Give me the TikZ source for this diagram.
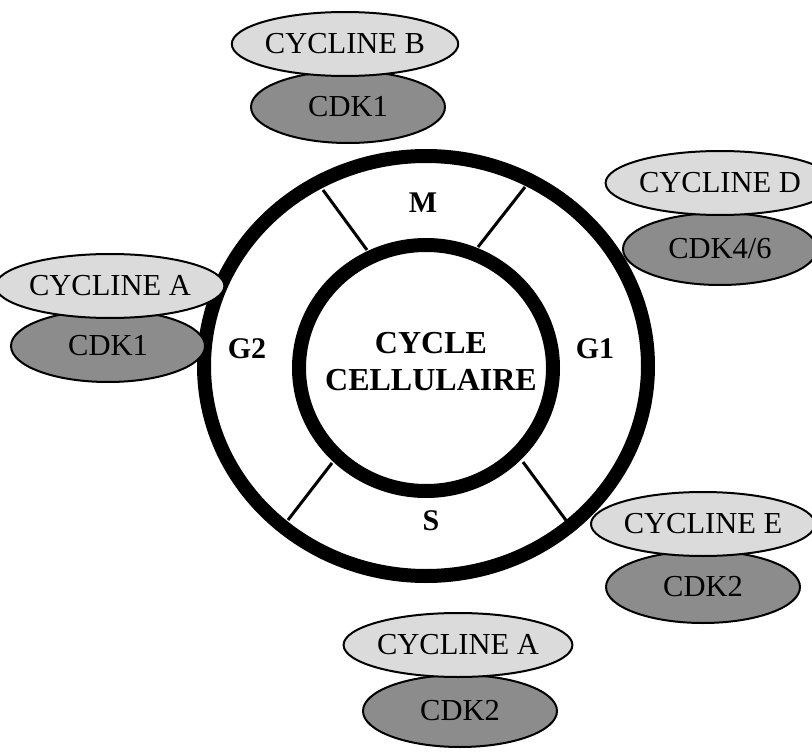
\documentclass[tikz,border=0pt]{standalone}
\usepackage{fontspec}
\setmainfont{Liberation Serif}
\usepackage{tikz}
\usetikzlibrary{shapes.geometric,calc,positioning}
\definecolor{cyclinfill}{gray}{0.86}
\definecolor{cdkfill}{gray}{0.55}
\tikzstyle{cyclin}=[draw, ellipse, fill=cyclinfill, line width=2pt,
                    minimum width=188pt, minimum height=64pt, inner sep=0pt,
                    font=\fontsize{30.5}{32}\selectfont]
\tikzstyle{cdk}   =[draw, ellipse, fill=cdkfill, line width=2pt,
                    minimum width=194pt, minimum height=72pt, inner sep=0pt,
                    font=\fontsize{30.5}{32}\selectfont]
\tikzstyle{phase} =[font=\bfseries\fontsize{30}{32}\selectfont, inner sep=0pt]
\tikzstyle{wall}  =[line width=3pt]
\begin{document}
\begin{tikzpicture}[x=1pt, y=-1pt]
    \useasboundingbox (0,0) rectangle (812,752);
    % ring
    \draw[line width=14pt] (426,366) ellipse [x radius=222, y radius=210];
    \draw[line width=14pt] (426,368) ellipse [x radius=127, y radius=123];
    \coordinate (m1) at (367,250); \coordinate (m2) at (323,190);
    \coordinate (m3) at (478,247); \coordinate (m4) at (525,187);
    \coordinate (s1) at (332,463); \coordinate (s2) at (288,520);
    \coordinate (s3) at (523,462); \coordinate (s4) at (568,523);
    \draw[wall] (m1) -- (m2); \draw[wall] (m3) -- (m4);
    \draw[wall] (s1) -- (s2); \draw[wall] (s3) -- (s4);
    \node[phase] (M) at (423,203) {M};
    \node[phase] (G2) at (247,349) {G2};
    \node[phase] (G1) at (595,349) {G1};
    \node[phase] (S) at (431,521) {S};
    \node[phase, align=center, font=\bfseries\fontsize{32}{37}\selectfont]
        (cc) at (431,362) {CYCLE\\CELLULAIRE};
    % complexes
    \node[cdk] (bk) at (348,107) {CDK1};
    \node[cyclin] (b) at (345,44) {CYCLINE B};
    \node[cdk] (dk) at (720,249) {CDK4/6};
    \node[cyclin] (d) at (720,183) {CYCLINE D};
    \node[cdk] (ak) at (108,346) {CDK1};
    \node[cyclin] (a) at (110,286) {CYCLINE A};
    \node[cdk] (ek) at (703,587) {CDK2};
    \node[cyclin] (e) at (703,524) {CYCLINE E};
    \node[cdk] (a2k) at (460,711) {CDK2};
    \node[cyclin] (a2) at (458,645) {CYCLINE A};
\end{tikzpicture}
\end{document}
